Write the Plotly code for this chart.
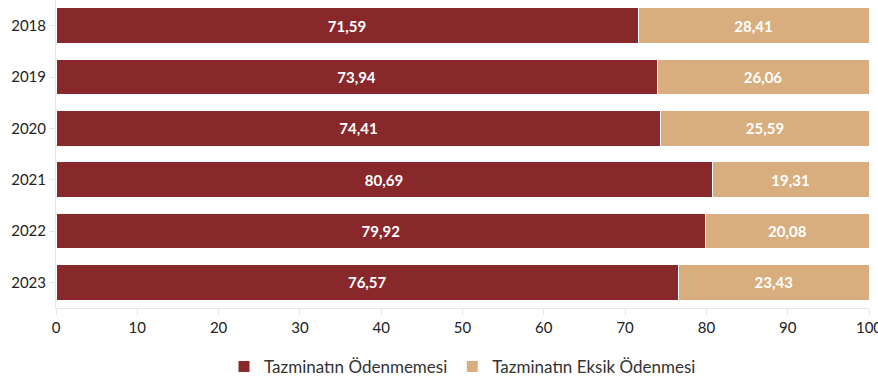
import plotly.graph_objects as go

years = ["2018", "2019", "2020", "2021", "2022", "2023"]
odenmeme = [71.59, 73.94, 74.41, 80.69, 79.92, 76.57]
eksik_odeme = [28.41, 26.06, 25.59, 19.31, 20.08, 23.43]
series_names = ["Tazminatın Ödenmemesi", "Tazminatın Eksik Ödenmesi"]
x_ticks = [0, 10, 20, 30, 40, 50, 60, 70, 80, 90, 100]

colors = ["#88282B", "#D9AE7E"]
font_family = "Lato, 'Open Sans', sans-serif"

fig = go.Figure()
for name, vals, col in zip(series_names, [odenmeme, eksik_odeme], colors):
    fig.add_trace(go.Bar(
        y=years, x=vals, name=name, orientation="h",
        marker=dict(color=col, line=dict(color="white", width=1)),
        texttemplate="%{x:.2f}", textposition="inside", insidetextanchor="middle",
        textfont=dict(color="white", size=15, family=font_family, weight="bold"),
        width=0.7,
    ))

fig.update_layout(
    barmode="stack",
    width=878, height=385,
    margin=dict(l=56, r=9, t=0, b=77, autoexpand=False),
    paper_bgcolor="white", plot_bgcolor="white",
    separators=",.",
    font=dict(family=font_family, size=15, color="#222222"),
    legend=dict(orientation="h", x=0.5, xanchor="center",
                yref="container", y=0.047, yanchor="middle",
                font=dict(size=17, color="#333333"), traceorder="normal",
                itemwidth=30),
    uniformtext=dict(mode="show", minsize=10),
)
fig.update_xaxes(range=[0, 100], tickvals=x_ticks, showgrid=False,
                 showline=True, linecolor="#E6E6E6", linewidth=1,
                 ticks="outside", tickcolor="#E6E6E6", ticklen=6,
                 ticklabeloverflow="allow",
                 zeroline=False, tickfont=dict(size=15, color="#222222"))
fig.update_yaxes(autorange="reversed", showgrid=False,
                 showline=True, linecolor="#E6E6E6", linewidth=1,
                 ticks="outside", tickcolor="#E6E6E6", ticklen=6,
                 tickfont=dict(size=15, color="#222222"))

fig.write_html("out.html")
